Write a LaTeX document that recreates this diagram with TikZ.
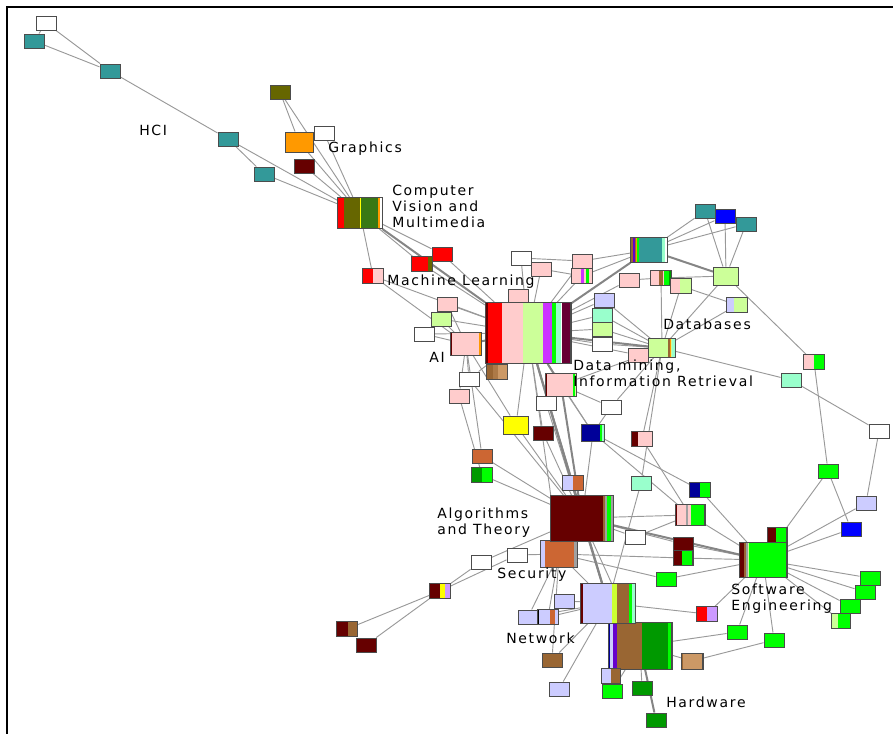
\documentclass[tikz,border=0pt]{standalone}
\usepackage{fontspec}
\newfontfamily\lab[LetterSpace=12]{DejaVu Sans}
\usetikzlibrary{calc}
\pgfdeclarelayer{bg}
\pgfsetlayers{bg,main}
\definecolor{cTeal}{RGB}{51,153,153}
\definecolor{cOlive}{RGB}{102,102,0}
\definecolor{cOrange}{RGB}{255,153,0}
\definecolor{cDkred}{RGB}{102,0,0}
\definecolor{cRed}{RGB}{255,0,0}
\definecolor{cPink}{RGB}{255,204,204}
\definecolor{cLg}{RGB}{204,255,153}
\definecolor{cGreen}{RGB}{0,255,0}
\definecolor{cDkgreen}{RGB}{0,153,0}
\definecolor{cCvgreen}{RGB}{56,120,20}
\definecolor{cMag}{RGB}{204,51,255}
\definecolor{cAqua}{RGB}{153,255,204}
\definecolor{cMaroon}{RGB}{102,0,51}
\definecolor{cLav}{RGB}{204,204,255}
\definecolor{cBlue}{RGB}{0,0,255}
\definecolor{cNavy}{RGB}{0,0,153}
\definecolor{cBrown}{RGB}{153,102,51}
\definecolor{cTan}{RGB}{204,153,102}
\definecolor{cRust}{RGB}{204,102,51}
\definecolor{cYellow}{RGB}{255,255,0}
\definecolor{cPurple}{RGB}{102,0,204}
\definecolor{cYg}{RGB}{204,255,51}
\definecolor{cLilac}{RGB}{204,153,255}
\definecolor{cGray}{RGB}{160,160,160}
\newcommand\mnode[6]{%
  \node[nd,minimum width=#4*0.75pt,minimum height=#5*0.75pt] (#1) at (#2,#3) {};
  \foreach \a/\b/\c in {#6}{\fill[\c] ($(#1.north west)+(\a,0)$) rectangle ($(#1.south west)+(\b,0)$);}
  \draw[draw=black!70,line width=0.7pt] (#1.south west) rectangle (#1.north east);}
\begin{document}
\begin{tikzpicture}[x=0.75pt,y=-0.75pt,
  nd/.style={draw=black!70,line width=0.7pt,inner sep=0pt,minimum width=15pt,minimum height=10.5pt,fill=white},
  e/.style={draw=black!40,line width=0.7pt},
  E/.style={draw=black!48,line width=1.5pt},
  lbl/.style={font={\lab\fontsize{10.5}{12.2}\selectfont},inner sep=0pt,align=left,text=black,anchor=west}]
\useasboundingbox (0,0) rectangle (893,734);
\draw[line width=1.9pt] (7,734) -- (7,7) -- (893,7);
% ---- nodes: HCI / graphics
\node[nd] (h1) at (46,23) {};
\node[nd,fill=cTeal] (h2) at (34,41) {};
\node[nd,fill=cTeal] (h3) at (110,71) {};
\node[nd,fill=cTeal] (h4) at (228,139) {};
\node[nd,fill=cTeal] (h5) at (264,174) {};
\node[nd,fill=cOlive] (g1) at (280,92) {};
\node[nd,fill=cOrange,minimum width=21pt,minimum height=15pt] (g2) at (299,142) {};
\node[nd] (g3) at (324,133) {};
\node[nd,fill=cDkred] (g4) at (304,166) {};
\mnode{cv}{360}{213}{44}{31}{0/6/cRed,6/22/cOlive,22/23/cYellow,23/40/cCvgreen,40/42/cOrange,42/44/white}
% ---- ML area
\node[nd,fill=cRed] (r1) at (442,254) {};
\mnode{r2}{422}{264}{20}{14}{0/16/cRed,16/20/cOlive}
\mnode{r3}{373}{276}{20}{14}{0/10/cRed,10/20/cPink}
\node[nd] (w1) at (521,258) {};
\node[nd,fill=cPink] (p1) at (541,269) {};
\node[nd,fill=cPink] (p2) at (582,261) {};
\mnode{p3}{582}{276}{20}{14}{0/9/cPink,9/12/cMag,12/14/cPink,14/17/cGreen,17/20/cPink}
\mnode{tm}{649}{250}{36}{25}{0/2/cBrown,2/4/cPurple,4/5/cBrown,5/6/cOrange,6/8/cGreen,8/31/cTeal,31/34/cAqua,34/36/white}
\node[nd,fill=cPink] (p4) at (629,280) {};
\mnode{pg1}{661}{278}{20}{14}{0/8/cPink,8/12/cBrown,12/13/cPink,13/18/cGreen,18/20/cDkgreen}
\mnode{plg}{681}{286}{20}{14}{0/9/cPink,9/20/cLg}
\node[nd,fill=cLg,minimum width=18.75pt,minimum height=13.5pt] (lgb) at (726,276) {};
\node[nd,fill=cTeal] (t1) at (705,211) {};
\node[nd,fill=cBlue] (bl1) at (725,216) {};
\node[nd,fill=cTeal] (t2) at (746,224) {};
\mnode{ll}{737}{305}{20}{14}{0/7/cLav,7/20/cLg}
\mnode{db}{662}{348}{26}{18}{0/19/cLg,19/21/cBrown,21/22/cOrange,22/23/cLg,23/26/cAqua}
\node[nd,fill=cPink] (p5) at (638,355) {};
\mnode{pg2}{814}{362}{20}{14}{0/10/cPink,10/20/cGreen}
\node[nd,fill=cAqua] (aq1) at (791,380) {};
\node[nd] (w9) at (879,431) {};
\node[nd,fill=cGreen] (gr1) at (828,471) {};
\node[nd,fill=cLav] (lv1) at (866,503) {};
\node[nd,fill=cBlue] (bl2) at (851,529) {};
\node[nd,fill=cLav] (lv2) at (604,300) {};
\node[nd,fill=cAqua] (aq2) at (602,315) {};
\node[nd,fill=cLg] (lg2) at (602,329) {};
\node[nd] (w2) at (602,344) {};
\node[nd,fill=cPink] (p6) at (518,296) {};
\node[nd,fill=cPink] (p7) at (447,304) {};
\node[nd,fill=cLg] (lg1) at (441,319) {};
\node[nd] (w3) at (424,334) {};
\mnode{ai}{466}{344}{30}{22}{0/1.5/cDkred,1.5/28/cPink,28/30/cOrange}
\mnode{ml}{528}{333}{85}{61}{0/3/cDkred,3/17/cRed,17/38/cPink,38/58/cLg,58/67/cMag,67/71/cGreen,71/76/cAqua,76/77/white,77/85/cMaroon}
\mnode{br1}{497}{372}{20}{14}{0/6/cBrown,6/11/cBrown!60!cTan,11/20/cTan}
\node[nd] (w4) at (469,379) {};
\node[nd,fill=cPink] (p8) at (459,396) {};
\mnode{dm}{561}{385}{30}{22}{0/1.5/cDkred,1.5/27/cPink,27/29/cGreen,29/30/cLg}
\node[nd] (w5) at (546,403) {};
\node[nd] (w6) at (611,407) {};
\node[nd,fill=cYellow,minimum width=18.75pt,minimum height=13.5pt] (y1) at (516,425) {};
\node[nd,fill=cDkred] (dr1) at (543,433) {};
\mnode{nv}{593}{433}{22}{16}{0/18/cNavy,18/20/cGreen,20/22/cAqua}
\mnode{dp}{642}{439}{20}{14}{0/6/cDkred,6/20/cPink}
\node[nd,fill=cAqua] (aq3) at (641,483) {};
\mnode{ng}{700}{490}{20}{14}{0/10/cNavy,10/20/cGreen}
% ---- SE area
\mnode{sp}{690}{515}{29}{20}{0/2/cDkred,2/11/cPink,11/13/cGray,13/16/cPink,16/29/cGreen}
\mnode{drg1}{777}{535}{19}{14}{0/9/cDkred,9/19/cGreen}
\node[nd,fill=cDkred] (dr2) at (683,544) {};
\mnode{drg2}{683}{558}{19}{14}{0/9/cDkred,9/19/cGreen}
\node[nd] (w7) at (635,537) {};
\mnode{se}{763}{560}{47}{34}{0/5/cDkred,5/7/cBrown,7/9/cGray,9/10/cLg,10/47/cGreen}
\node[nd,fill=cGreen] (g2a) at (666,579) {};
\node[nd,fill=cGreen] (gA) at (870,578) {};
\node[nd,fill=cGreen] (gB) at (865,592) {};
\node[nd,fill=cGreen] (gC) at (850,606) {};
\mnode{gD}{841}{621}{18}{14}{0/6/cLg,6/18/cGreen}
\mnode{rl}{707}{614}{20}{14}{0/10/cRed,10/20/cLilac}
\node[nd,fill=cGreen] (gE) at (737,632) {};
\node[nd,fill=cGreen] (gF) at (774,640) {};
\mnode{tn}{692}{661}{21}{15}{0/2/cBrown,2/21/cTan}
% ---- hardware / network
\mnode{hw}{640}{646}{63}{46}{0/2/cNavy,2/5/cLav,5/9/cPurple,9/34/cBrown,34/60/cDkgreen,60/63/cGreen}
\mnode{lb}{611}{676}{18}{14}{0/9/cLav,9/18/cBrown}
\node[nd,fill=cGreen] (gG) at (612,691) {};
\node[nd,fill=cDkgreen] (dg1) at (642,688) {};
\node[nd,fill=cDkgreen] (dg2) at (656,720) {};
\mnode{nw}{608}{603}{54}{39}{0/2/cDkred,2/31/cLav,31/36/cYg,36/48/cBrown,48/51/cGreen,51/54/cAqua}
\node[nd,fill=cLav] (lv3) at (564,601) {};
\node[nd,fill=cLav] (lv4) at (528,617) {};
\mnode{lb2}{548}{617}{20}{14}{0/1/black,1/12/cLav,12/17/cRust,17/20/cLav}
\node[nd,fill=cBrown] (brn) at (552,660) {};
\node[nd,fill=cLav] (lv5) at (559,689) {};
\mnode{sec}{559}{554}{36}{26}{0/4/cLav,4/33/cRust,33/36/cGray}
\mnode{alg}{582}{518}{62}{45}{0/52/cDkred,52/54/cBrown,54/56/cGray,56/60/cGreen,60/62/cGray}
\mnode{lo}{573}{483}{20}{14}{0/10/cLav,10/20/cRust}
\node[nd,fill=cRust] (or1) at (482,456) {};
\mnode{gg}{482}{475}{20}{14}{0/10/cDkgreen,10/20/cGreen}
\node[nd] (w8) at (517,555) {};
\node[nd] (wA) at (481,562) {};
\mnode{dyl}{440}{591}{20}{14}{0/10/cDkred,10/15/cYellow,15/20/cLilac}
\mnode{dbr}{347}{629}{20}{14}{0/11/cDkred,11/20/cBrown}
\node[nd,fill=cDkred] (dr3) at (366,645) {};
% ---- edges
\begin{pgfonlayer}{bg}
\foreach \u/\v in {h1/h2,h2/h3,h1/h3,h3/h4,h4/h5,h4/cv,h5/cv,g1/g2,g1/cv,g2/cv,g3/cv,g4/cv,
  cv/r1,cv/r2,cv/r3,r1/ml,r2/ml,r3/ai,r3/ml,p7/ml,lg1/ml,w3/ml,p7/ai,lg1/ai,w3/ai,
  w1/ml,p1/ml,p6/ml,p2/ml,p3/ml,p4/ml,lv2/ml,aq2/ml,lg2/ml,w2/ml,p5/ml,br1/ml,w4/ml,y1/ml,dr1/ml,nv/ml,sec/ml,lo/ml,
  w1/p2,p1/p3,p2/tm,p3/tm,p4/pg1,tm/t1,tm/bl1,tm/t2,lgb/t1,lgb/bl1,lgb/t2,lgb/pg1,lgb/db,lgb/pg2,
  pg1/db,plg/db,plg/ll,ll/db,lv2/db,aq2/db,lg2/db,w2/db,p5/db,dm/db,db/aq1,db/w6,db/dp,db/aq3,
  pg2/gr1,aq1/w9,w9/lv1,gr1/bl2,gr1/se,lv1/se,bl2/se,gA/se,gB/se,gC/se,gD/se,drg1/se,
  sp/se,ng/se,nv/ng,nv/sp,dp/sp,aq3/nw,alg/sp,alg/w7,w7/sp,alg/dr2,sec/drg2,drg2/se,dr2/se,
  g2a/se,sec/g2a,rl/se,rl/nw,gE/se,gE/hw,gF/se,gF/tn,tn/hw,hw/lb,hw/gG,hw/dg1,nw/hw,alg/hw,
  nw/lv3,nw/lb2,nw/lv4,nw/brn,nw/lv5,sec/brn,sec/lv4,sec/lb2,sec/w8,sec/nw,
  dyl/wA,dyl/w8,dyl/dbr,dyl/dr3,wA/alg,or1/alg,gg/alg,lo/alg,y1/alg,dr1/alg,nv/alg,dm/nv,dm/w6,nv/w6,w5/alg,
  ai/w4,ai/p8,ai/y1,ai/or1,p8/gg,w4/alg}
  {\draw[e] (\u) -- (\v);}
\foreach \u/\v in {cv/ml,ai/ml,tm/ml,db/ml,dm/ml,alg/ml,nw/ml,tm/lgb,alg/se,hw/dg2,alg/nw,dm/alg}
  {\draw[E] (\u) -- (\v);}
\end{pgfonlayer}
% ---- labels
\node[lbl] at (139,130) {HCI};
\node[lbl] at (328,149) {Graphics};
\node[lbl] at (392,206.5) {Computer\\Vision and\\Multimedia};
\node[lbl] at (387,282) {Machine Learning};
\node[lbl] at (429,357) {AI};
\node[lbl] at (663,324) {Databases};
\node[lbl] at (573,373.5) {Data mining,\\Information Retrieval};
\node[lbl] at (437,522.5) {Algorithms\\and Theory};
\node[lbl] at (497,575) {Security};
\node[lbl] at (506,638) {Network};
\node[lbl] at (731,599) {Software\\Engineering};
\node[lbl] at (666,702) {Hardware};
\end{tikzpicture}
\end{document}
